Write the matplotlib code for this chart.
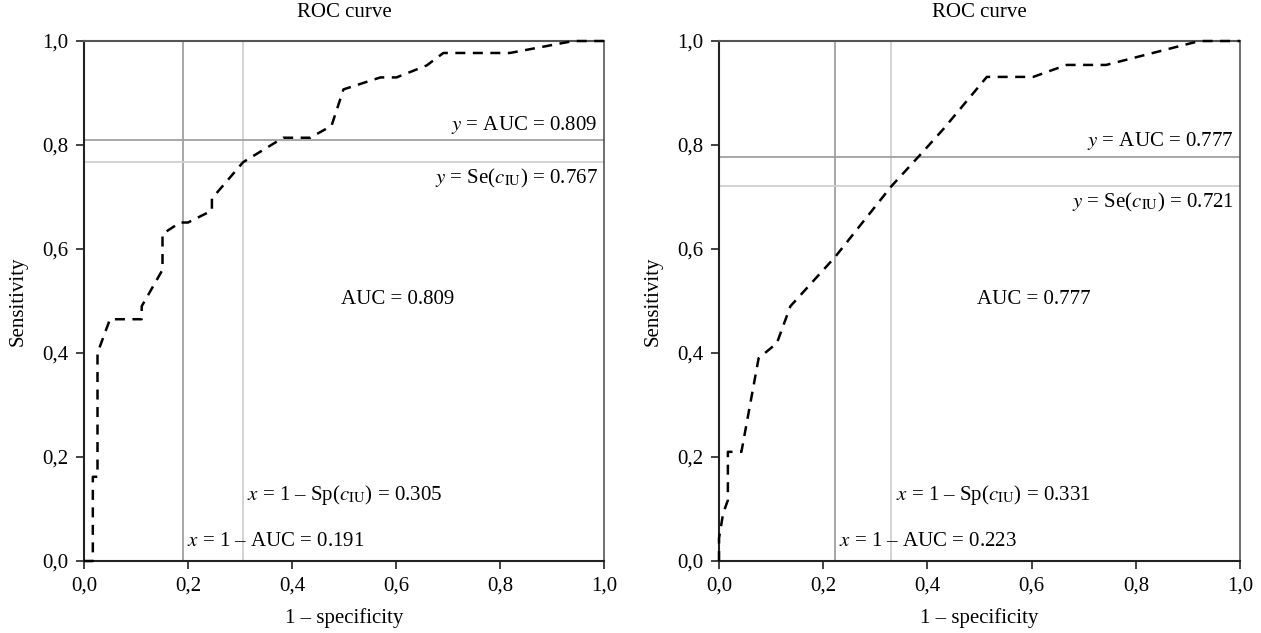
import numpy as np
import matplotlib
matplotlib.use("Agg")
import matplotlib.pyplot as plt

plt.rcParams['font.family'] = ['Liberation Serif', 'DejaVu Serif']
plt.rcParams['mathtext.fontset'] = 'stix'
plt.rcParams['font.size'] = 15

# ROC curve points
left_fpr = [0, 0.017, 0.017, 0.026, 0.026, 0.05, 0.111, 0.111, 0.151, 0.151,
            0.185, 0.2, 0.246, 0.246, 0.306, 0.383, 0.435, 0.476, 0.499, 0.57,
            0.601, 0.659, 0.691, 0.819, 0.941, 1.0]
left_tpr = [0, 0, 0.162, 0.162, 0.40, 0.465, 0.465, 0.49, 0.56, 0.629,
            0.651, 0.651, 0.674, 0.697, 0.767, 0.814, 0.814, 0.837, 0.907, 0.93,
            0.93, 0.953, 0.977, 0.977, 1.0, 1.0]

right_fpr = [0, 0, 0.008, 0.017, 0.017, 0.043, 0.076, 0.111, 0.137, 0.223,
             0.331, 0.386, 0.43, 0.514, 0.603, 0.667, 0.743, 0.922, 1.0]
right_tpr = [0, 0.044, 0.092, 0.117, 0.21, 0.21, 0.39, 0.419, 0.49, 0.585,
             0.721, 0.781, 0.83, 0.931, 0.931, 0.954, 0.954, 1.0, 1.0]

aucs = [0.809, 0.777]
se_cut = [0.767, 0.721]
fpr_cut = [0.305, 0.331]

ticks = [0, 0.2, 0.4, 0.6, 0.8, 1.0]
tick_labels = ['0,0', '0,2', '0,4', '0,6', '0,8', '1,0']

dark_ref = '#a0a0a0'
light_ref = '#d0d0d0'

fig = plt.figure(figsize=(12.61, 6.33), dpi=100)
axes = [fig.add_axes([0.0666, 0.1137, 0.4124, 0.8215]),
        fig.add_axes([0.5702, 0.1137, 0.4132, 0.8215])]

curves = [(left_fpr, left_tpr), (right_fpr, right_tpr)]

for ax, (fpr, tpr), auc, se, fc in zip(axes, curves, aucs, se_cut, fpr_cut):
    ax.set_xlim(0, 1)
    ax.set_ylim(0, 1)

    # reference lines
    ax.axvline(1 - auc, color=dark_ref, lw=1.3, zorder=1)
    ax.axvline(fc, color=light_ref, lw=1.3, zorder=1)
    ax.axhline(auc, color=dark_ref, lw=1.3, zorder=1)
    ax.axhline(se, color=light_ref, lw=1.3, zorder=1)

    ax.plot(fpr, tpr, color='black', lw=1.8, dashes=(4, 3), clip_on=False, zorder=3)

    # annotations
    ax.text(0.988, auc + 0.009, '$y$ = AUC = %.3f' % auc, ha='right', va='bottom')
    ax.text(0.988, se - 0.009, '$y$ = Se($c_{\\mathrm{IU}}$) = %.3f' % se,
            ha='right', va='top')
    ax.text(0.495, 0.502, 'AUC = %.3f' % auc, ha='left', va='center')
    ax.text(fc + 0.008, 0.127, '$x$ = 1 \u2013 Sp($c_{\\mathrm{IU}}$) = %.3f' % fc,
            ha='left', va='center')
    ax.text(1 - auc + 0.008, 0.037, '$x$ = 1 \u2013 AUC = %.3f' % (1 - auc),
            ha='left', va='center')

    ax.text(0.5, 1.055, 'ROC curve', transform=ax.transAxes, ha='center', va='center')
    ax.text(0.5, -0.11, '1 \u2013 specificity', transform=ax.transAxes,
            ha='center', va='center')
    ax.text(-0.127, 0.5, 'Sensitivity', transform=ax.transAxes, rotation=90,
            ha='center', va='center')

    ax.set_xticks(ticks)
    ax.set_xticklabels(tick_labels)
    ax.set_yticks(ticks)
    ax.set_yticklabels(tick_labels)
    ax.tick_params(direction='out', length=6, width=1.2, color='#222222',
                   labelsize=15, pad=5)

    for side in ['left', 'bottom']:
        ax.spines[side].set_color('#222222')
        ax.spines[side].set_linewidth(1.5)
    ax.spines['top'].set_color('#555555')
    ax.spines['top'].set_linewidth(1.5)
    ax.spines['right'].set_color('#555555')
    ax.spines['right'].set_linewidth(1.2)

fig.savefig('out.png', dpi=100)
